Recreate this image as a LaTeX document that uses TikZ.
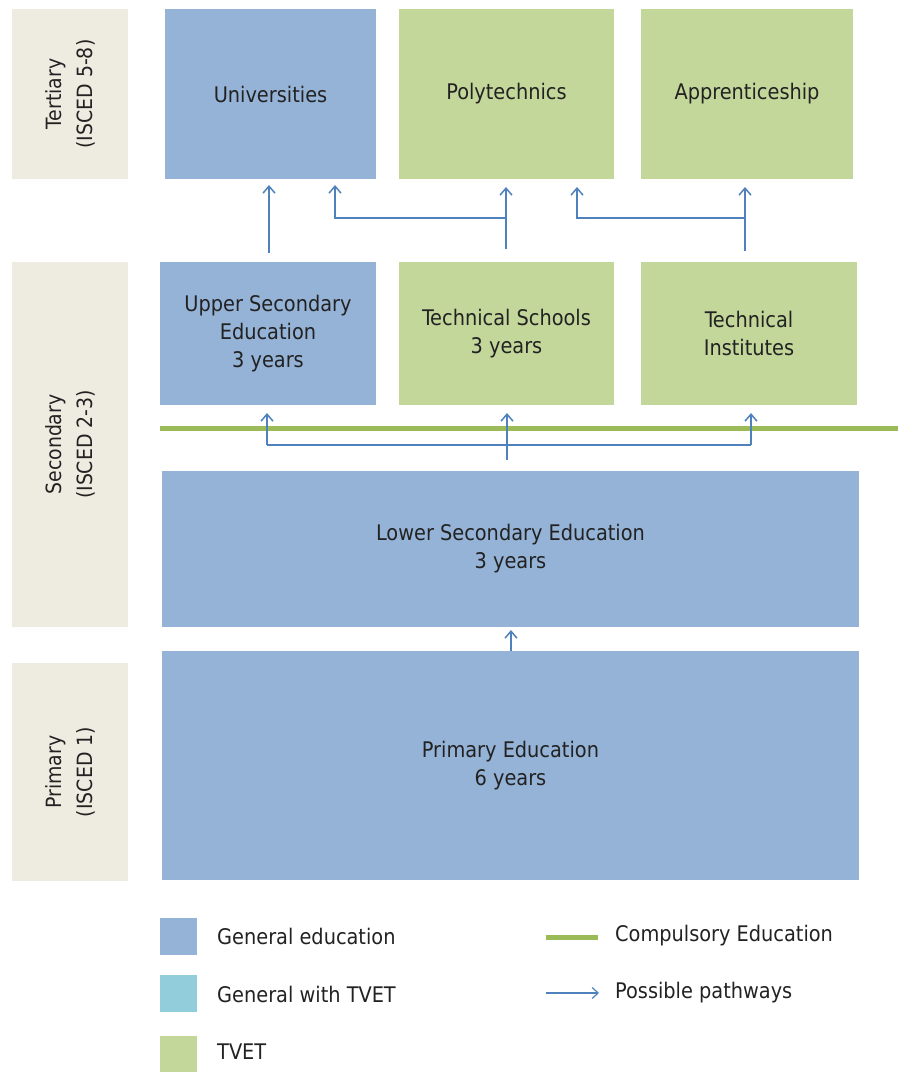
\documentclass[tikz,border=0pt]{standalone}
\usepackage{fontspec}
\setmainfont{DejaVu Sans Condensed}
\usetikzlibrary{arrows.meta}
\definecolor{genblue}{HTML}{95B3D7}
\definecolor{tvetgreen}{HTML}{C4D79B}
\definecolor{gentvet}{HTML}{92CDDC}
\definecolor{lvlbg}{HTML}{EEECE1}
\definecolor{compgreen}{HTML}{9BBB59}
\definecolor{pathblue}{HTML}{4F81BD}
\definecolor{txt}{HTML}{222222}
\begin{document}
\begin{tikzpicture}[x=1pt,y=-1pt,
  box/.style={anchor=north west, inner sep=0pt, outer sep=0pt, align=center,
    font=\fontsize{21.5}{28}\selectfont, text=txt},
  gen/.style={box, fill=genblue},
  tvet/.style={box, fill=tvetgreen},
  lvl/.style={box, fill=lvlbg},
  lvltext/.style={rotate=90, align=center, font=\fontsize{21}{31}\selectfont, text=txt, inner sep=0pt},
  pathway/.style={draw=pathblue, line width=1.5pt, -{Straight Barb[length=7pt,width=12pt,line width=1.5pt]}},
  pathline/.style={draw=pathblue, line width=1.5pt},
  legtext/.style={anchor=west, font=\fontsize{21.5}{24}\selectfont, text=txt, inner sep=0pt}
]
\useasboundingbox (0,0) rectangle (898,1072);

% level labels
\node[lvl, minimum width=116pt, minimum height=170pt] (lt) at (12,9) {};
\node[lvltext] at (lt.center) {Tertiary\\(ISCED 5-8)};
\node[lvl, minimum width=116pt, minimum height=365pt] (ls) at (12,262) {};
\node[lvltext] at (ls.center) {Secondary\\(ISCED 2-3)};
\node[lvl, minimum width=116pt, minimum height=218pt] (lp) at (12,663) {};
\node[lvltext] at (lp.center) {Primary\\(ISCED 1)};

% tertiary
\node[gen, minimum width=211pt, minimum height=170pt] (uni) at (165,9) {Universities};
\node[tvet, minimum width=215pt, minimum height=170pt] (poly) at (399,9) {Polytechnics};
\node[tvet, minimum width=212pt, minimum height=170pt] (appr) at (641,9) {Apprenticeship};

% upper secondary
\node[gen, minimum width=216pt, minimum height=143pt] (ups) at (160,262) {Upper Secondary\\Education\\3 years};
\node[tvet, minimum width=215pt, minimum height=143pt] (tech) at (399,262) {Technical Schools\\3 years};
\node[tvet, minimum width=216pt, minimum height=143pt] (inst) at (641,262) {Technical\\Institutes};

% lower secondary & primary
\node[gen, minimum width=697pt, minimum height=156pt] (lsec) at (162,471) {Lower Secondary Education\\3 years};
\node[gen, minimum width=697pt, minimum height=229pt] (prim) at (162,651) {Primary Education\\6 years};

% compulsory line
\coordinate (cl1) at (160,428);
\coordinate (cl2) at (898,428);
\draw[compgreen, line width=5pt] (cl1) -- (cl2);

% upper pathways
\coordinate (u1s) at (269,253); \coordinate (u1e) at (269,185);
\coordinate (p1s) at (506,249); \coordinate (p1j) at (506,218); \coordinate (p1e) at (506,187);
\coordinate (u2j) at (335,218); \coordinate (u2e) at (335,185);
\coordinate (a1s) at (745,251); \coordinate (a1j) at (745,218); \coordinate (a1e) at (745,187);
\coordinate (p2j) at (577,218); \coordinate (p2e) at (577,187);
\draw[pathway] (u1s) -- (u1e);
\draw[pathway] (p1s) -- (p1e);
\draw[pathway] (p1j) -- (u2j) -- (u2e);
\draw[pathway] (a1s) -- (a1e);
\draw[pathway] (a1j) -- (p2j) -- (p2e);

% middle pathways
\coordinate (m0) at (507,460); \coordinate (mj) at (507,445);
\coordinate (ml) at (267,445); \coordinate (mr) at (751,445);
\coordinate (mle) at (267,413); \coordinate (mce) at (507,413); \coordinate (mre) at (751,413);
\draw[pathway] (m0) -- (mce);
\draw[pathway] (ml) -- (mle);
\draw[pathway] (mr) -- (mre);
\draw[pathline] (ml) -- (mr);

% lower pathway
\coordinate (l0) at (511,651); \coordinate (le) at (511,630);
\draw[pathway] (l0) -- (le);

% legend
\node[box, fill=genblue, minimum width=37pt, minimum height=37pt] (lg1) at (160,918) {};
\node[box, fill=gentvet, minimum width=37pt, minimum height=37pt] (lg2) at (160,975) {};
\node[box, fill=tvetgreen, minimum width=37pt, minimum height=36pt] (lg3) at (160,1036) {};
\node[legtext] at (217,936) {General education};
\node[legtext] at (217,994) {General with TVET};
\node[legtext] at (217,1052) {TVET};
\coordinate (lc1) at (546,937); \coordinate (lc2) at (598,937);
\draw[compgreen, line width=5pt] (lc1) -- (lc2);
\node[legtext] at (615,936) {Compulsory Education};
\coordinate (la1) at (546,993); \coordinate (la2) at (599,993);
\draw[draw=pathblue, line width=1.2pt, -{Straight Barb[length=6pt,width=11pt,line width=1.2pt]}] (la1) -- (la2);
\node[legtext] at (615,993) {Possible pathways};
\end{tikzpicture}
\end{document}
